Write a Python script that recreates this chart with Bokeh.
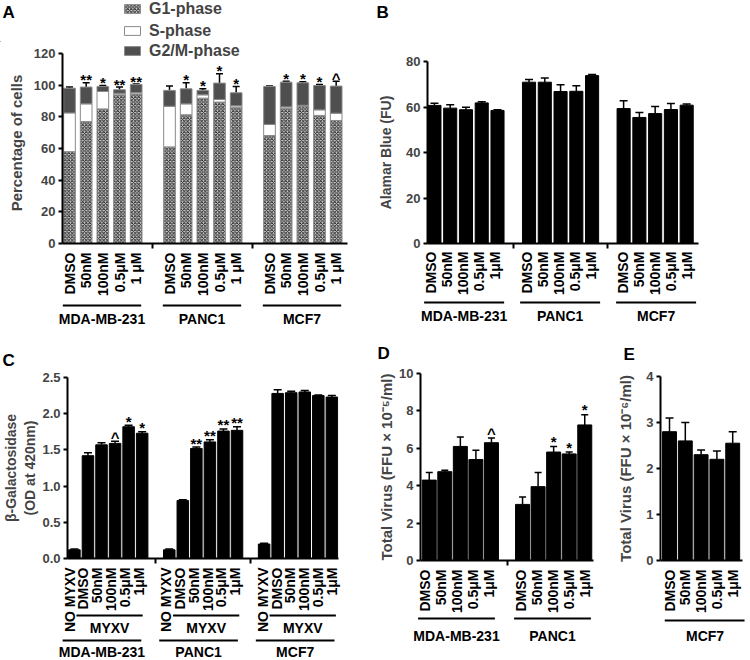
import math
from bokeh.plotting import figure
from bokeh.models import (ColumnDataSource, FixedTicker, Whisker, TeeHead, Legend,
                          LegendItem, Range1d, NumeralTickFormatter)
from bokeh.layouts import row, column
from bokeh.embed import file_html
from bokeh.resources import INLINE
from bokeh.core.properties import value

# ---------------- data ----------------
cell_lines = ["MDA-MB-231", "PANC1", "MCF7"]
doses_a = ["DMSO", "50nM", "100nM", "0.5\u03bcM", "1 \u03bcM"]
doses = ["DMSO", "50nM", "100nM", "0.5\u03bcM", "1\u03bcM"]
doses_c = ["NO MYXV", "DMSO", "50nM", "100nM", "0.5\u03bcM", "1\u03bcM"]
phases = ["G1-phase", "S-phase", "G2/M-phase"]

# Panel A: cell-cycle distribution (% of cells)
a_g1 = [58, 77, 85, 93.9, 94.5, 61, 81.3, 91.8, 89.3, 86.1, 68.2, 85.5, 86.5, 80.9, 77.7]
a_s = [24.5, 11.2, 11.0, 1.0, 0.8, 25.7, 6.9, 2.1, 1.7, 0.9, 7.0, 0.8, 0.8, 3.5, 4.6]
a_g2m = [15.6, 10.6, 3.2, 2.2, 5.1, 10.0, 9.5, 2.8, 10.3, 8.2, 24.0, 15.6, 14.2, 15.4, 17.1]
a_g1_err = [0.5, 1.0, 2.7, 0.8, 0.5, 0.5, 1.2, 1.0, 1.0, 1.7, 1.5, 0.6, 0.6, 1.0, 3.0]
a_s_err = [0.5, 3.2, 0.5, 0.7, 0.3, 2.6, 2.5, 1.0, 2.5, 0.8, 1.0, 0.3, 0.3, 1.0, 0.5]
a_g2m_err = [0.7, 2.7, 0.6, 1.7, 0.3, 2.7, 3.8, 1.0, 5.9, 4.0, 0.2, 0.6, 0.6, 0.7, 3.1]
a_marks = ["", "**", "*", "**", "**", "", "*", "*", "*", "*", "", "*", "*", "*", "^"]

# Panel B: Alamar Blue (FU)
b_vals = [60.7, 59.5, 58.8, 61.8, 58.5, 70.9, 70.9, 66.8, 66.9, 73.8,
          59.3, 55.4, 57.1, 58.9, 60.8]
b_err = [1.0, 1.5, 1.1, 0.5, 0.3, 1.2, 1.8, 3.0, 2.4, 0.5, 3.5, 2.2, 3.1, 2.6, 0.5]

# Panel C: beta-galactosidase (OD at 420nm)
c_vals = [0.12, 1.42, 1.57, 1.59, 1.82, 1.73,
          0.12, 0.80, 1.52, 1.61, 1.76, 1.77,
          0.20, 2.28, 2.29, 2.30, 2.25, 2.23]
c_err = [0.01, 0.04, 0.03, 0.03, 0.02, 0.02,
         0.01, 0.01, 0.02, 0.03, 0.03, 0.05,
         0.01, 0.05, 0.02, 0.02, 0.01, 0.02]
c_marks = ["", "", "", "^", "*", "*", "", "", "**", "**", "**", "**",
           "", "", "", "", "", ""]

# Panel D: total virus (FFU x 10^-5/ml)
d_lines = ["MDA-MB-231", "PANC1"]
d_vals = [4.3, 4.75, 6.1, 5.4, 6.3, 3.0, 3.95, 5.8, 5.7, 7.25]
d_err = [0.4, 0.08, 0.5, 0.5, 0.25, 0.4, 0.75, 0.3, 0.1, 0.55]
d_marks = ["", "", "", "", "^", "", "", "*", "*", "*"]

# Panel E: total virus (FFU x 10^-6/ml), MCF7
e_lines = ["MCF7"]
e_vals = [2.8, 2.6, 2.3, 2.2, 2.55]
e_err = [0.3, 0.4, 0.1, 0.18, 0.25]

FONT = "Liberation Sans"
G1_STYLE = dict(fill_color="#cfcfcf", hatch_pattern="diagonal_cross", hatch_scale=3.5,
                hatch_weight=0.9, hatch_color="#1a1a1a", line_color="#8a8a8a", line_width=1)
S_STYLE = dict(fill_color="white", line_color="#8a8a8a", line_width=1)
G2_STYLE = dict(fill_color="#4f4f4f", line_color="#8a8a8a", line_width=1)


def slots(ngroups, n):
    return [g * (n + 1) + i for g in range(ngroups) for i in range(n)]


def zero_axes(p):
    for ax in p.axis:
        ax.ticker = FixedTicker(ticks=[], minor_ticks=[])
        ax.major_tick_out = 0
        ax.major_tick_in = 0
        ax.minor_tick_out = 0
        ax.minor_tick_in = 0
        ax.major_label_standoff = 0
        ax.major_label_text_font_size = "0px"
        ax.axis_label = None
        ax.axis_label_standoff = 0
        ax.axis_line_color = None
        ax.visible = False


def bare(width, height, xr, yr):
    p = figure(width=width, height=height, x_range=xr, y_range=yr,
               output_backend="svg", toolbar_location=None, tools="",
               min_border_left=0, min_border_right=0, min_border_top=0, min_border_bottom=0)
    zero_axes(p)
    p.grid.visible = False
    p.outline_line_color = None
    try:
        p.frame_align = False
    except Exception:
        pass
    return p


def make_main(width, height, xr, ytop, borders, yticks, ylabel, seps, title_standoff,
              fmt=None, title_size="15px", tick_size="13px", bounds="auto"):
    l, r, t, b = borders
    p = figure(width=width, height=height, x_range=Range1d(*xr), y_range=Range1d(0, ytop),
               output_backend="svg", toolbar_location=None, tools="",
               min_border_left=l, min_border_right=r, min_border_top=t, min_border_bottom=b)
    p.grid.visible = False
    p.outline_line_color = None
    ya = p.yaxis[0]
    ya.bounds = bounds
    ya.ticker = FixedTicker(ticks=yticks, minor_ticks=[])
    if fmt:
        ya.formatter = NumeralTickFormatter(format=fmt)
    ya.axis_line_width = 2
    ya.major_tick_line_width = 2
    ya.major_tick_out = 4
    ya.major_tick_in = 0
    ya.minor_tick_out = 0
    ya.minor_tick_in = 0
    ya.major_label_text_font = FONT
    ya.major_label_text_font_style = "bold"
    ya.major_label_text_font_size = tick_size
    ya.major_label_standoff = 3
    ya.axis_label = ylabel
    ya.axis_label_text_font = FONT
    ya.axis_label_text_font_style = "bold"
    ya.axis_label_text_font_size = title_size
    ya.axis_label_standoff = title_standoff
    xa = p.xaxis[0]
    xa.ticker = FixedTicker(ticks=[], minor_ticks=seps)
    xa.axis_line_width = 2
    xa.major_tick_out = 0
    xa.major_tick_in = 0
    xa.minor_tick_out = 5
    xa.minor_tick_in = 0
    xa.minor_tick_line_width = 2
    xa.major_label_text_font_size = "0px"
    xa.major_label_standoff = 0
    return p


def make_labels(main, width, height):
    # same pixel scale as the main plot, frame widened to the full canvas
    l, r = main.min_border_left, main.min_border_right
    x0, x1 = main.x_range.start, main.x_range.end
    pps = (width - l - r) / (x1 - x0)
    return bare(width, height, Range1d(x0 - l / pps, x1 + r / pps), Range1d(0, height))


def make_header(width, height, letter, x, y):
    h = bare(width, height, Range1d(0, width), Range1d(0, height))
    h.text(x=[x], y=[y], text=[letter], text_align="left", text_baseline="top",
           text_font=value(FONT), text_font_style="bold", text_font_size="17px",
           text_color="black")
    return h


def whiskers(p, xs, lo, err, size=7):
    src = ColumnDataSource(dict(base=xs, lower=lo, upper=[a + e for a, e in zip(lo, err)]))
    p.add_layout(Whisker(source=src, base="base", lower="lower", upper="upper",
                         dimension="height", line_width=1.5, line_color="black",
                         upper_head=TeeHead(size=size, line_width=1.5, line_color="black"),
                         lower_head=None))


def marks(p, xs, tops, errs, texts, pix):
    ys = [t + e + pix for t, e in zip(tops, errs)]
    p.text(x=xs, y=ys, text=texts, text_align="center", text_baseline="middle",
           text_font=value(FONT), text_font_style="bold", text_font_size="15px",
           text_color="black")


def cat_labels(lp, xs, texts, ytop, size="14px"):
    lp.text(x=xs, y=[ytop] * len(xs), text=texts, angle=math.pi / 2, text_align="right",
            text_baseline="middle", text_font=value(FONT), text_font_style="bold",
            text_font_size=size, text_color="black")


def group_lines(lp, starts, ends, y):
    lp.segment(x0=starts, y0=[y] * len(starts), x1=ends, y1=[y] * len(starts),
               line_width=2, line_color="black")


def group_names(lp, xs, names, y, size="14px"):
    lp.text(x=xs, y=[y] * len(xs), text=names, text_align="center", text_baseline="middle",
            text_font=value(FONT), text_font_style="bold", text_font_size=size,
            text_color="black")


def legend(items, loc):
    return Legend(items=items, location=loc, orientation="vertical", glyph_width=20,
                  glyph_height=11, label_text_font=FONT, label_text_font_style="bold",
                  label_text_font_size="16px", label_standoff=7, spacing=4, padding=0,
                  margin=0, label_height=17, border_line_alpha=0, background_fill_alpha=0)


# ================= Panel A =================
xa = slots(3, 5)
A_PPS_Y = 190 / 120.0
pA = make_main(375, 209, (-0.42, 16.68), 201 / A_PPS_Y, (62, 28, 0, 8),
               list(range(0, 121, 20)), "Percentage of cells", [5, 11], 6, bounds=(0, 120))
s_top = [g + s for g, s in zip(a_g1, a_s)]
g_top = [g + s + m for g, s, m in zip(a_g1, a_s, a_g2m)]
srcA = ColumnDataSource(dict(x=xa, g1=a_g1, s1=s_top, g2=g_top))
r1 = pA.vbar(x="x", width=0.7, bottom=0, top="g1", source=srcA, **G1_STYLE)
r2 = pA.vbar(x="x", width=0.7, bottom="g1", top="s1", source=srcA, **S_STYLE)
r3 = pA.vbar(x="x", width=0.7, bottom="s1", top="g2", source=srcA, **G2_STYLE)
whiskers(pA, xa, a_g1, a_g1_err)
whiskers(pA, xa, s_top, a_s_err)
whiskers(pA, xa, g_top, a_g2m_err)
marks(pA, xa, g_top, a_g2m_err, a_marks, 3 / A_PPS_Y)
pA.add_layout(legend([LegendItem(label=phases[2], renderers=[r3])], (60, 183.5)))

# header of A: panel letter + first two legend rows (swatch renderers kept off-range)
hA = make_header(375, 42, "A", 2, 40)
d1 = hA.vbar(x=[-1000], top=[1], width=1, **G1_STYLE)
d2 = hA.vbar(x=[-1000], top=[1], width=1, **S_STYLE)
hA.add_layout(legend([LegendItem(label=phases[0], renderers=[d1]),
                      LegendItem(label=phases[1], renderers=[d2])], (122, 2.5)))

lA = make_labels(pA, 375, 84)
cat_labels(lA, xa, doses_a * 3, 83)
gA0 = [g * 6 - 0.4 for g in range(len(cell_lines))]
gA1 = [g * 6 + 4.3 for g in range(len(cell_lines))]
group_lines(lA, gA0, gA1, 30)
group_names(lA, [(a + b) / 2 for a, b in zip(gA0, gA1)], cell_lines, 17)

# ================= Panel B =================
xb = slots(3, 5)
pB = make_main(373, 197, (-0.44, 16.75), 80, (48, 50, 7, 8), [0, 20, 40, 60, 80],
               "Alamar Blue (FU)", [5, 11], 9, title_size="14px")
pB.vbar(x=xb, width=0.83, bottom=0, top=b_vals, fill_color="black", line_color="black")
whiskers(pB, xb, b_vals, b_err, 8)
hB = make_header(373, 54, "B", 1, 52)

lB = make_labels(pB, 373, 84)
cat_labels(lB, xb, doses * 3, 84)
gB0 = [g * 6 - 0.4 for g in range(len(cell_lines))]
gB1 = [g * 6 + 4.6 for g in range(len(cell_lines))]
group_lines(lB, gB0, gB1, 33)
group_names(lB, [(a + b) / 2 for a, b in zip(gB0, gB1)], cell_lines, 20)

# ================= Panel C =================
xc = slots(3, 6)
C_PPS_Y = 181 / 2.5
pC = make_main(375, 196, (-0.51, 19.49), 2.5, (62, 37, 7, 8), [0, 0.5, 1.0, 1.5, 2.0, 2.5],
               "\u03b2-Galactosidase\n(OD at 420nm)", [6, 13], 1, fmt="0.0", title_size="14px")
pC.vbar(x=xc, width=0.85, bottom=0, top=c_vals, fill_color="black", line_color="black")
whiskers(pC, xc, c_vals, c_err, 8)
marks(pC, xc, c_vals, c_err, c_marks, 4 / C_PPS_Y)
hC = make_header(375, 35, "C", 2, 20)

lC = make_labels(pC, 375, 92)
cat_labels(lC, xc, doses_c * 3, 91, size="14px")
group_lines(lC, [g * 7 + 0.5 for g in range(3)], [g * 7 + 5.3 for g in range(3)], 43)
group_names(lC, [g * 7 + 2.9 for g in range(3)], ["MYXV"] * 3, 31, size="14px")
gC0 = [g * 7 - 0.5 for g in range(len(cell_lines))]
gC1 = [g * 7 + 5.2 for g in range(len(cell_lines))]
group_lines(lC, gC0, gC1, 18)
group_names(lC, [(a + b) / 2 for a, b in zip(gC0, gC1)], cell_lines, 7, size="14px")

# ================= Panel D =================
xd = slots(2, 5)
D_PPS_Y = 187 / 10.0
pD = make_main(235, 202, (-0.5625, 10.5625), 10, (40, 17, 7, 8), [0, 2, 4, 6, 8, 10],
               "Total Virus (FFU \u00d7 10\u207b\u2075/ml)", [5], 1)
pD.vbar(x=xd, width=0.9, bottom=0, top=d_vals, fill_color="black", line_color="black")
whiskers(pD, xd, d_vals, d_err, 7)
marks(pD, xd, d_vals, d_err, d_marks, 5 / D_PPS_Y)
hD = make_header(235, 31, "D", 2, 23)

lD = make_labels(pD, 235, 90)
cat_labels(lD, xd, doses * 2, 89)
gD0 = [g * 6 - 0.4 for g in range(len(d_lines))]
gD1 = [g * 6 + 4.4 for g in range(len(d_lines))]
group_lines(lD, gD0, gD1, 40)
group_names(lD, [(a + b) / 2 for a, b in zip(gD0, gD1)], d_lines, 23)

# ================= Panel E =================
xe = list(range(len(e_vals)))
pE = make_main(138, 199, (-0.57, 4.62), 4, (50, 6, 7, 8), [0, 1, 2, 3, 4],
               "Total Virus (FFU \u00d7 10\u207b\u2076/ml)", [], 9)
pE.vbar(x=xe, width=0.88, bottom=0, top=e_vals, fill_color="black", line_color="black")
whiskers(pE, xe, e_vals, e_err, 8)
hE = make_header(138, 34, "E", 13, 25)

lE = make_labels(pE, 138, 90)
cat_labels(lE, xe, doses, 89)
group_lines(lE, [-0.3], [4.75], 38)
group_names(lE, [2.25], e_lines, 23)

page = column(
    row(column(hA, pA, lA), column(hB, pB, lB)),
    row(column(hC, pC, lC), column(hD, pD, lD), column(hE, pE, lE)),
)

open("out.html", "w").write(file_html(page, INLINE))
